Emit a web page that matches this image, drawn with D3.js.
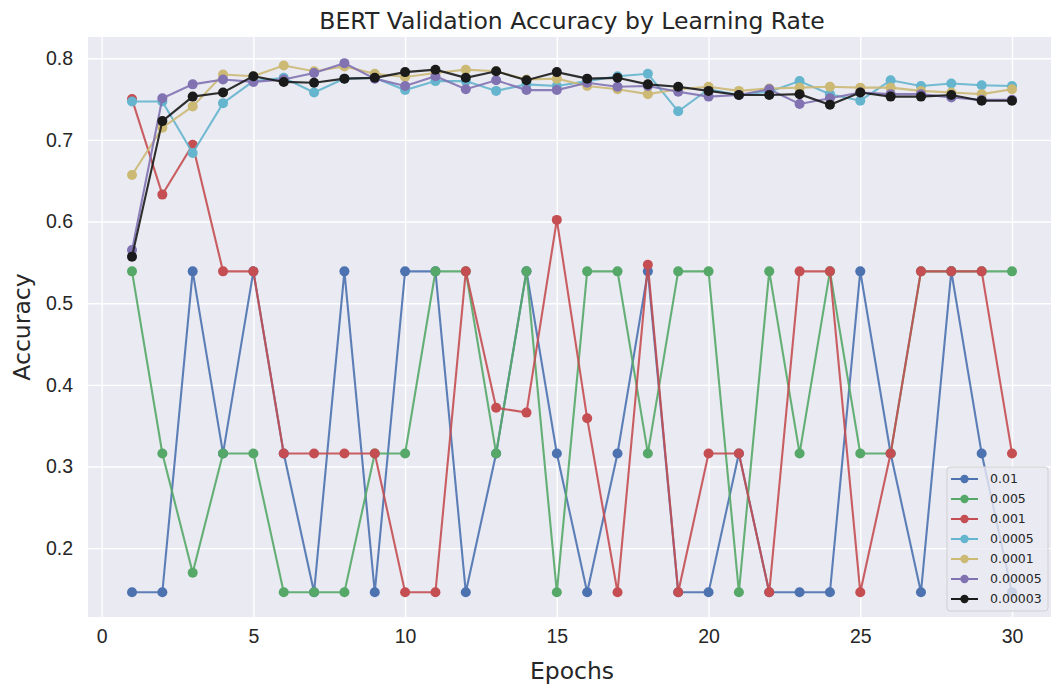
<!DOCTYPE html>
<html>
<head>
<meta charset="utf-8">
<script src="https://cdn.jsdelivr.net/npm/d3@7"></script>
<style>
  body { margin: 0; background: #ffffff; }
  svg { display: block; font-family: "DejaVu Sans", sans-serif; }
</style>
</head>
<body>
<div id="chart"></div>
<script>
// data
var epochs = [1, 2, 3, 4, 5, 6, 7, 8, 9, 10, 11, 12, 13, 14, 15, 16, 17, 18, 19, 20, 21, 22, 23, 24, 25, 26, 27, 28, 29, 30];

var lr0_01 = [0.146, 0.146, 0.539, 0.316, 0.539, 0.316, 0.146, 0.539, 0.146, 0.539, 0.539, 0.146, 0.316, 0.539, 0.316,
  0.146, 0.316, 0.539, 0.146, 0.146, 0.316, 0.146, 0.146, 0.146, 0.539, 0.316, 0.146, 0.539, 0.316, 0.146];
var lr0_005 = [0.539, 0.316, 0.170, 0.316, 0.316, 0.146, 0.146, 0.146, 0.316, 0.316, 0.539, 0.539, 0.316, 0.539, 0.146,
  0.539, 0.539, 0.316, 0.539, 0.539, 0.146, 0.539, 0.316, 0.539, 0.316, 0.316, 0.539, 0.539, 0.539, 0.539];
var lr0_001 = [0.750, 0.633, 0.694, 0.539, 0.539, 0.316, 0.316, 0.316, 0.316, 0.146, 0.146, 0.539, 0.372, 0.366, 0.602,
  0.359, 0.146, 0.547, 0.146, 0.316, 0.316, 0.146, 0.539, 0.539, 0.146, 0.316, 0.539, 0.539, 0.539, 0.316];
var lr0_0005 = [0.747, 0.747, 0.684, 0.745, 0.772, 0.776, 0.758, 0.775, 0.776, 0.761, 0.772, 0.772, 0.760, 0.768, 0.766,
  0.772, 0.778, 0.781, 0.735, 0.762, 0.755, 0.759, 0.772, 0.756, 0.748, 0.773, 0.766, 0.769, 0.767, 0.766];
var lr0_0001 = [0.657, 0.715, 0.741, 0.780, 0.778, 0.791, 0.784, 0.790, 0.781, 0.777, 0.782, 0.786, 0.784, 0.774, 0.775,
  0.766, 0.762, 0.756, 0.762, 0.765, 0.760, 0.763, 0.764, 0.765, 0.764, 0.764, 0.760, 0.758, 0.756, 0.762];
var lr0_00005 = [0.565, 0.751, 0.768, 0.774, 0.771, 0.774, 0.782, 0.794, 0.775, 0.766, 0.778, 0.762, 0.773, 0.761, 0.761,
  0.770, 0.765, 0.766, 0.759, 0.753, 0.755, 0.762, 0.744, 0.751, 0.758, 0.756, 0.756, 0.752, 0.749, 0.749];
var lr0_00003 = [0.557, 0.723, 0.753, 0.758, 0.778, 0.771, 0.770, 0.775, 0.776, 0.783, 0.786, 0.776, 0.784, 0.773, 0.783,
  0.775, 0.776, 0.768, 0.765, 0.760, 0.755, 0.755, 0.756, 0.743, 0.758, 0.753, 0.753, 0.755, 0.748, 0.748];

var seriesLabels = ["0.01", "0.005", "0.001", "0.0005", "0.0001", "0.00005", "0.00003"];
var seriesValues = [lr0_01, lr0_005, lr0_001, lr0_0005, lr0_0001, lr0_00005, lr0_00003];
var seriesColors = ["#4C72B0", "#55A868", "#C44E52", "#64B5CD", "#CCB974", "#8172B2", "#1A1A1A"];

var xTicks = [0, 5, 10, 15, 20, 25, 30];
var yTicks = [0.2, 0.3, 0.4, 0.5, 0.6, 0.7, 0.8];

// settings
var svgWidth = 1051;
var svgHeight = 687;
var plot = { left: 88, right: 1056, top: 37, bottom: 617 };
var textColor = "#262626";
var bgColor = "#EAEAF2";

var svg = d3.select("#chart")
  .append("svg")
  .attr("width", svgWidth)
  .attr("height", svgHeight);

// scales with matplotlib's 5% margins
var xScale = d3.scaleLinear().domain([-0.45, 31.45]).range([plot.left, plot.right]);
var yScale = d3.scaleLinear().domain([0.1157, 0.826]).range([plot.bottom, plot.top]);

// background
svg.append("rect")
  .attr("x", plot.left)
  .attr("y", plot.top)
  .attr("width", plot.right - plot.left)
  .attr("height", plot.bottom - plot.top)
  .attr("fill", bgColor);

// grid
var xAxis = svg.append("g")
  .attr("transform", `translate(0, ${plot.bottom})`)
  .call(d3.axisBottom(xScale).tickValues(xTicks).tickFormat(d3.format("d"))
    .tickSize(-(plot.bottom - plot.top)).tickPadding(12));
var yAxis = svg.append("g")
  .attr("transform", `translate(${plot.left}, 0)`)
  .call(d3.axisLeft(yScale).tickValues(yTicks).tickFormat(d3.format(".1f"))
    .tickSize(-(plot.right - plot.left)).tickPadding(15));

[xAxis, yAxis].forEach(function (ax) {
  ax.select(".domain").remove();
  ax.selectAll(".tick line").attr("stroke", "#ffffff").attr("stroke-width", 1.4);
  ax.selectAll(".tick text").attr("fill", textColor).attr("font-size", 19.5);
});

// lines and markers
var line = d3.line()
  .x((d, i) => xScale(epochs[i]))
  .y(d => yScale(d));

seriesValues.forEach(function (values, s) {
  var g = svg.append("g");
  g.append("path")
    .attr("d", line(values))
    .attr("fill", "none")
    .attr("stroke", seriesColors[s])
    .attr("stroke-width", 2.1)
    .attr("stroke-opacity", 0.9);
  g.selectAll("circle")
    .data(values)
    .enter()
    .append("circle")
    .attr("cx", (d, i) => xScale(epochs[i]))
    .attr("cy", d => yScale(d))
    .attr("r", 5)
    .attr("fill", seriesColors[s]);
});

// title and axis labels
svg.append("text")
  .attr("x", (plot.left + plot.right) / 2)
  .attr("y", 29)
  .attr("text-anchor", "middle")
  .attr("fill", textColor)
  .attr("font-size", 23.5)
  .text("BERT Validation Accuracy by Learning Rate");

svg.append("text")
  .attr("x", (plot.left + plot.right) / 2)
  .attr("y", 679)
  .attr("text-anchor", "middle")
  .attr("fill", textColor)
  .attr("font-size", 23.5)
  .text("Epochs");

svg.append("text")
  .attr("transform", `translate(30, ${(plot.top + plot.bottom) / 2}) rotate(-90)`)
  .attr("text-anchor", "middle")
  .attr("fill", textColor)
  .attr("font-size", 23.5)
  .text("Accuracy");

// legend
var legend = svg.append("g").attr("transform", "translate(947, 467)");
legend.append("rect")
  .attr("width", 101)
  .attr("height", 144)
  .attr("rx", 3)
  .attr("fill", bgColor)
  .attr("fill-opacity", 0.8)
  .attr("stroke", "#d0d0d0")
  .attr("stroke-width", 1);

seriesLabels.forEach(function (label, s) {
  var row = legend.append("g").attr("transform", `translate(0, ${12 + s * 20})`);
  row.append("line")
    .attr("x1", 4).attr("x2", 31)
    .attr("stroke", seriesColors[s])
    .attr("stroke-width", 2);
  row.append("circle")
    .attr("cx", 17.5)
    .attr("r", 4.2)
    .attr("fill", seriesColors[s]);
  row.append("text")
    .attr("x", 43)
    .attr("dy", "0.35em")
    .attr("fill", textColor)
    .attr("font-size", 12.5)
    .text(label);
});
</script>
</body>
</html>
